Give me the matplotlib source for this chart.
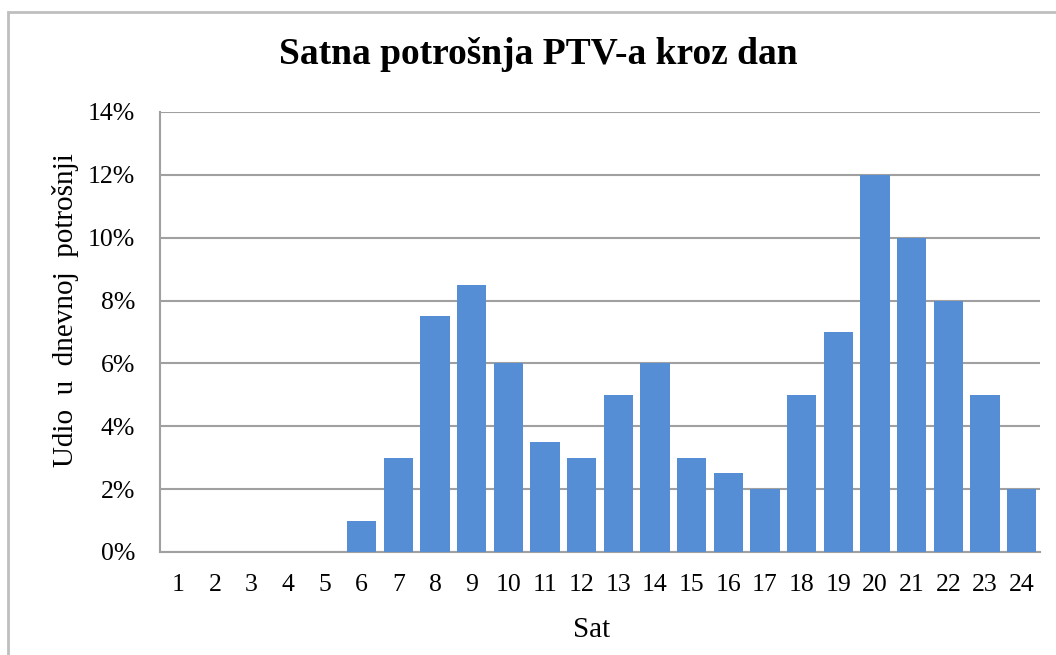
import matplotlib.pyplot as plt
from matplotlib.patches import Rectangle
from matplotlib.ticker import PercentFormatter

# hourly share of daily hot water use (%)
hours = [str(h) for h in range(1, 25)]
share = [0, 0, 0, 0, 0, 1, 3, 7.5, 8.5, 6, 3.5, 3,
         5, 6, 3, 2.5, 2, 5, 7, 12, 10, 8, 5, 2]
yticks = [0, 2, 4, 6, 8, 10, 12, 14]

plt.rcParams['font.family'] = ['Liberation Serif', 'DejaVu Serif']

fig = plt.figure(figsize=(10.56, 6.55), dpi=100)
ax = fig.add_axes([160 / 1056, 1 - 552 / 655, 880 / 1056, 440 / 655])

# outer chart frame (cut off on right and bottom)
fig.patches.append(Rectangle((8 / 1056, -0.05), 1.2, 1 - 12 / 655 + 0.05,
                             transform=fig.transFigure, fill=False,
                             edgecolor='#BFBFBF', linewidth=2))

x = range(len(hours))
ax.bar(x, share, width=0.8, color='#558ED5', zorder=3)

ax.set_xlim(-0.5, len(hours) - 0.5)
ax.set_ylim(0, 14)
ax.set_xticks(list(x))
ax.set_xticklabels(hours)
ax.set_yticks(yticks)
ax.yaxis.set_major_formatter(PercentFormatter(decimals=0))
ax.tick_params(length=0, labelsize=18.5)
ax.tick_params(axis='x', pad=16)
ax.tick_params(axis='y', pad=18)

ax.grid(axis='y', color='#A0A0A0', linewidth=1.5, zorder=0)
for s in ['top', 'right']:
    ax.spines[s].set_visible(False)
for s in ['left', 'bottom']:
    ax.spines[s].set_color('#A0A0A0')
    ax.spines[s].set_linewidth(1.5)

ax.set_xlabel('Sat', fontsize=21, va='center')
ax.xaxis.set_label_coords(0.49, -0.177)
ax.set_ylabel('Udio  u  dnevnoj  potrošnji', fontsize=21, va='center', ha='center')
ax.yaxis.set_label_coords(-0.107, 0.55)

fig.text(0.51, 1 - 55 / 655, 'Satna potrošnja PTV-a kroz dan',
         ha='center', va='center', fontsize=27, fontweight='bold')

fig.savefig('out.png', dpi=100, facecolor='white')
